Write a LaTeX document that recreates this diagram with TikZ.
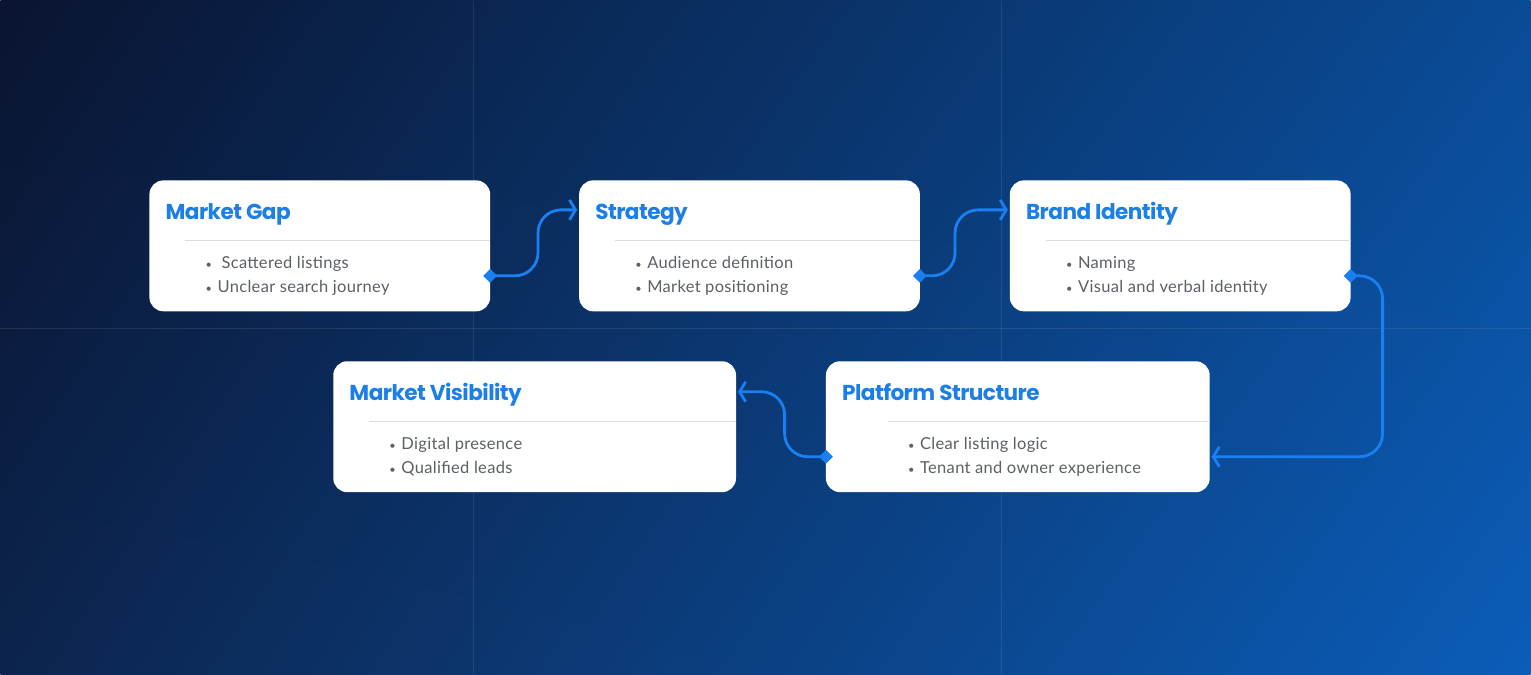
\documentclass[tikz,border=0pt]{standalone}
\usepackage{fontspec}
\setmainfont{Lato}[LetterSpace=2]
\newfontfamily\headfont[LetterSpace=-2.5]{Poppins}
\usepackage{tikz}
\usetikzlibrary{calc,shapes.geometric,arrows.meta,shadings}
\definecolor{bgTL}{HTML}{0A1430}
\definecolor{bgTR}{HTML}{0A4B96}
\definecolor{bgBL}{HTML}{0C244D}
\definecolor{bgBR}{HTML}{0B5DB9}
\definecolor{headblue}{HTML}{1C7FE8}
\definecolor{linkblue}{HTML}{1A80F2}
\definecolor{itemgray}{HTML}{5C6067}
\definecolor{rulegray}{HTML}{DCDDE0}

% one card: name, left, top, width, indent, title, item one, item two
\newcommand{\phasecard}[8]{%
  \node[card, minimum width=#4pt, anchor=north west] (#1) at (#2,#3) {};
  \node[cardtitle] (#1-t) at ([xshift=16pt,yshift=-39pt]#1.north west) {#6};
  \draw[cardrule] ([xshift=#5pt,yshift=-60pt]#1.north west) -- ([yshift=-60pt]#1.north east);
  \node[cardbul] (#1-b1) at ([xshift=#5pt+20pt,yshift=-88pt]#1.north west) {•};
  \node[carditem] (#1-i1) at ([xshift=#5pt+32pt,yshift=-88pt]#1.north west) {#7};
  \node[cardbul] (#1-b2) at ([xshift=#5pt+20pt,yshift=-112pt]#1.north west) {•};
  \node[carditem] (#1-i2) at ([xshift=#5pt+32pt,yshift=-112pt]#1.north west) {#8};
}

\begin{document}
\begin{tikzpicture}[x=1pt,y=-1pt,
    card/.style={rectangle, rounded corners=14pt, fill=white, minimum height=131pt, inner sep=0pt, outer sep=0pt},
    cardtitle/.style={anchor=base west, inner sep=0pt, text=headblue, font=\headfont\bfseries\fontsize{21.6}{26}\selectfont},
    cardrule/.style={draw=rulegray, line width=1pt},
    cardbul/.style={anchor=base west, inner sep=0pt, text=itemgray, font=\fontsize{11}{14}\selectfont},
    carditem/.style={anchor=base west, inner sep=0pt, text=itemgray, font=\fontsize{16.5}{20}\selectfont},
    joint/.style={diamond, fill=linkblue, inner sep=0pt, minimum size=14pt},
    link/.style={draw=linkblue, line width=2.8pt, rounded corners=23pt, -{Straight Barb[length=6pt,width=20pt]}}]

%the background
    \shade[upper left=bgTL, upper right=bgTR, lower left=bgBL, lower right=bgBR] (0,0) rectangle (1531,674);
    \foreach \x in {473,1002}
      \draw[white, opacity=0.09, line width=1pt] (\x,0) -- (\x,674);
    \draw[white, opacity=0.09, line width=1pt] (0,328) -- (1531,328);

%the cards
    \phasecard{gap}{149}{180}{341}{36}{Market Gap}{\hspace{4pt}Scattered listings}{Unclear search journey}
    \phasecard{strat}{579}{180}{341}{36}{Strategy}{Audience definition}{Market positioning}
    \phasecard{brand}{1010}{180}{341}{36}{Brand Identity}{Naming}{Visual and verbal identity}
    \phasecard{vis}{333}{361}{403}{36}{Market Visibility}{Digital presence}{Qualified leads}
    \phasecard{plat}{826}{361}{384}{62}{Platform Structure}{Clear listing logic}{Tenant and owner experience}

%the joints and the links
    \node[joint] (gap-o) at ([yshift=-30pt]gap.east) {};
    \node[joint] (strat-o) at ([yshift=-30pt]strat.east) {};
    \node[joint] (brand-o) at ([yshift=-30pt]brand.east) {};
    \node[joint] (plat-o) at ([yshift=-30pt]plat.west) {};
    \coordinate (strat-i) at ([xshift=-2pt,yshift=36pt]strat.west);
    \coordinate (brand-i) at ([xshift=-2pt,yshift=36pt]brand.west);
    \coordinate (plat-i) at ([xshift=2pt,yshift=-30pt]plat.east);
    \coordinate (vis-i) at ([xshift=2pt,yshift=35pt]vis.east);
    \coordinate (m1) at ($(gap-o)!0.55!(strat-i)$);
    \coordinate (m2) at ($(strat-o)!0.4!(brand-i)$);
    \coordinate (m4) at ($(plat-o)!0.47!(vis-i)$);

    \draw[link] (gap-o.center) -| (m1 |- strat-i) -- (strat-i);
    \draw[link] (strat-o.center) -| (m2 |- brand-i) -- (brand-i);
    \draw[link] (brand-o.center) -- ++(32,0) |- (plat-i);
    \draw[link] (plat-o.center) -| (m4 |- vis-i) -- (vis-i);
\end{tikzpicture}
\end{document}
